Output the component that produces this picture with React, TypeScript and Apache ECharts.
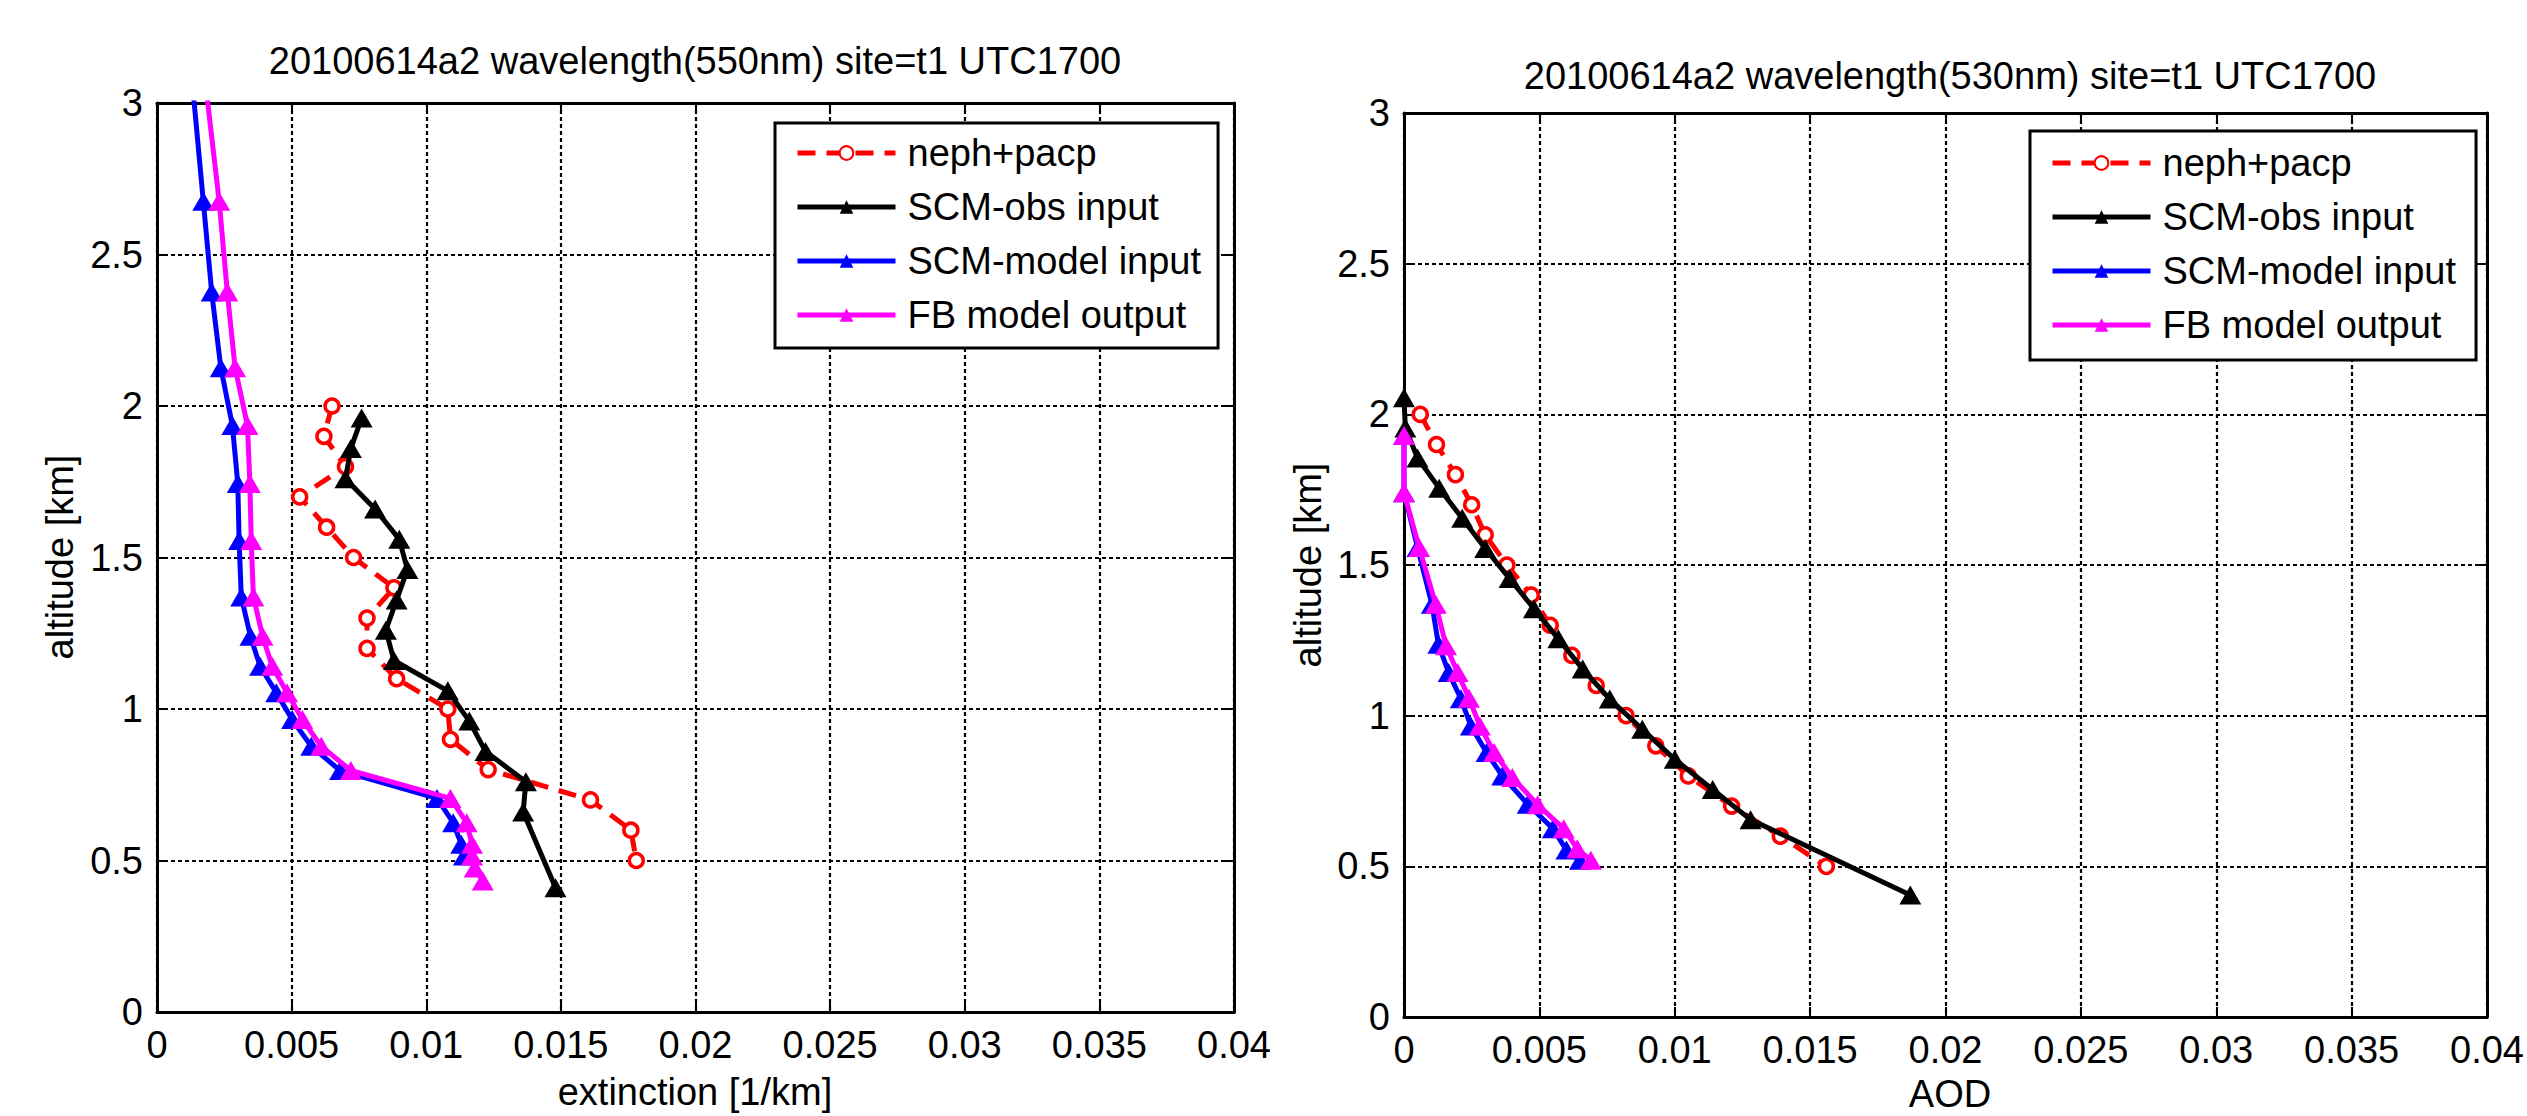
import React, { useEffect, useRef } from "react";
import * as echarts from "echarts";

const FONT = '"Liberation Sans", Arial, Helvetica, sans-serif';

// ---------- DATA ----------
const seriesNames = ["neph+pacp", "SCM-obs input", "SCM-model input", "FB model output"];
const seriesColors = ["#ff0000", "#000000", "#0000ff", "#ff00ff"];

const xTickLabels = ["0", "0.005", "0.01", "0.015", "0.02", "0.025", "0.03", "0.035", "0.04"];
const yTickLabels = ["0", "0.5", "1", "1.5", "2", "2.5", "3"];

// Left panel: extinction [1/km] vs altitude [km]
const extAltNeph = [2.0, 1.9, 1.8, 1.7, 1.6, 1.5, 1.4, 1.3, 1.2, 1.1, 1.0, 0.9, 0.8, 0.7, 0.6, 0.5];
const extNeph = [0.0065, 0.0062, 0.007, 0.0053, 0.0063, 0.0073, 0.0088, 0.0078, 0.0078, 0.0089, 0.0108, 0.0109, 0.0123, 0.0161, 0.0176, 0.0178];

const extAltObs = [1.96, 1.86, 1.76, 1.66, 1.56, 1.46, 1.36, 1.26, 1.16, 1.06, 0.96, 0.86, 0.76, 0.66, 0.41];
const extObs = [0.0076, 0.0072, 0.007, 0.0081, 0.009, 0.0093, 0.0089, 0.0085, 0.0088, 0.0108, 0.0116, 0.0122, 0.0137, 0.0136, 0.0148];

const extAltModel = [3.05, 2.676, 2.376, 2.126, 1.936, 1.744, 1.556, 1.37, 1.24, 1.141, 1.054, 0.965, 0.877, 0.797, 0.705, 0.625, 0.554, 0.515];
const extModel = [0.00133, 0.00172, 0.00203, 0.00237, 0.0028, 0.003, 0.00305, 0.00313, 0.00347, 0.00383, 0.00443, 0.00502, 0.00573, 0.0068, 0.0104, 0.011, 0.0113, 0.0114];

const extAltFb = [3.05, 2.676, 2.376, 2.126, 1.936, 1.744, 1.556, 1.37, 1.24, 1.141, 1.054, 0.965, 0.877, 0.797, 0.705, 0.625, 0.554, 0.515, 0.475, 0.432];
const extFb = [0.00182, 0.00231, 0.00261, 0.0029, 0.00336, 0.00345, 0.0035, 0.00358, 0.00392, 0.00428, 0.00483, 0.0054, 0.0061, 0.0072, 0.0109, 0.0115, 0.0117, 0.0117, 0.0118, 0.0121];

// Right panel: AOD vs altitude [km]
const aodAltNeph = [2.0, 1.9, 1.8, 1.7, 1.6, 1.5, 1.4, 1.3, 1.2, 1.1, 1.0, 0.9, 0.8, 0.7, 0.6, 0.5];
const aodNeph = [0.0006, 0.0012, 0.0019, 0.0025, 0.003, 0.0038, 0.0047, 0.0054, 0.0062, 0.0071, 0.0082, 0.0093, 0.0105, 0.0121, 0.0139, 0.0156];

const aodAltObs = [2.055, 1.955, 1.855, 1.755, 1.655, 1.555, 1.455, 1.355, 1.255, 1.155, 1.055, 0.955, 0.855, 0.755, 0.655, 0.405];
const aodObs = [0, 0.00005, 0.0005, 0.0013, 0.00215, 0.003, 0.0039, 0.0048, 0.0057, 0.0066, 0.0076, 0.0088, 0.01, 0.0114, 0.0128, 0.0187];

const aodAltModel = [1.93, 1.74, 1.558, 1.37, 1.237, 1.143, 1.056, 0.966, 0.878, 0.8, 0.706, 0.625, 0.554, 0.52];
const aodModel = [0, 0, 0.0005, 0.00103, 0.00127, 0.00165, 0.0021, 0.00247, 0.00305, 0.00363, 0.00457, 0.0055, 0.006, 0.0065];

const aodAltFb = [1.93, 1.74, 1.558, 1.37, 1.232, 1.143, 1.058, 0.966, 0.878, 0.795, 0.704, 0.625, 0.558, 0.52];
const aodFb = [0, 0, 0.00056, 0.00117, 0.00155, 0.00198, 0.0024, 0.0028, 0.00333, 0.004, 0.00494, 0.0059, 0.0064, 0.0069];

const titles = [
  "20100614a2 wavelength(550nm) site=t1 UTC1700",
  "20100614a2 wavelength(530nm) site=t1 UTC1700",
];
const xNames = ["extinction [1/km]", "AOD"];
const yName = "altitude [km]";

// ---------- CHART ----------
const GRIDS = [
  { left: 157, top: 103, width: 1077, height: 909 },
  { left: 1404, top: 113, width: 1092, height: 904 },
];

function makePoints(xs: number[], ys: number[]) {
  return xs.map((x, i) => {
    const item: any = { value: [x, ys[i]] };
    if (ys[i] > 3) item.symbol = "none";
    return item;
  });
}

function makeSeries(idx: number, panel: number, xs: number[], ys: number[]) {
  const color = seriesColors[idx];
  const isNeph = idx === 0;
  return {
    type: "line",
    name: seriesNames[idx],
    xAxisIndex: panel * 2,
    yAxisIndex: panel * 2,
    data: makePoints(xs, ys),
    clip: true,
    symbol: isNeph ? "circle" : "triangle",
    symbolSize: isNeph ? 14 : [22, 19],
    lineStyle: { color, width: 5, type: isNeph ? [18, 11] : "solid" },
    itemStyle: isNeph
      ? { color: "#ffffff", borderColor: color, borderWidth: 3.5 }
      : { color, borderColor: color, borderWidth: 0 },
    emphasis: { disabled: true },
    z: 2 + idx,
  };
}

function xAxes(panel: number) {
  const base = {
    gridIndex: panel,
    type: "value",
    min: 0,
    max: 0.04,
    interval: 0.005,
    axisLine: { show: true, onZero: false, lineStyle: { color: "#000", width: 3 } },
    axisTick: { show: true, inside: true, length: 10, lineStyle: { color: "#000", width: 2 } },
  };
  return [
    {
      ...base,
      position: "bottom",
      axisLabel: {
        show: true,
        color: "#000",
        fontSize: 38,
        fontFamily: FONT,
        margin: 14,
        formatter: (_v: number, i: number) => xTickLabels[i],
        showMaxLabel: true,
        showMinLabel: true,
      },
      splitLine: { show: true, lineStyle: { color: "#000", width: 2.2, type: [4, 3] } },
    },
    { ...base, position: "top", axisLabel: { show: false }, splitLine: { show: false } },
  ];
}

function yAxes(panel: number) {
  const base = {
    gridIndex: panel,
    type: "value",
    min: 0,
    max: 3,
    interval: 0.5,
    axisLine: { show: true, onZero: false, lineStyle: { color: "#000", width: 3 } },
    axisTick: { show: true, inside: true, length: 10, lineStyle: { color: "#000", width: 2 } },
  };
  return [
    {
      ...base,
      position: "left",
      axisLabel: {
        show: true,
        color: "#000",
        fontSize: 38,
        fontFamily: FONT,
        margin: 14,
        formatter: (_v: number, i: number) => yTickLabels[i],
      },
      splitLine: { show: true, lineStyle: { color: "#000", width: 2.2, type: [4, 3] } },
    },
    { ...base, position: "right", axisLabel: { show: false }, splitLine: { show: false } },
  ];
}

function legendFor(left: number, top: number, padding: number[]) {
  return {
    data: seriesNames,
    orient: "vertical",
    left,
    top,
    padding,
    itemWidth: 98,
    itemHeight: 17,
    itemGap: 16,
    backgroundColor: "#ffffff",
    borderColor: "#000",
    borderWidth: 3,
    selectedMode: false,
    lineStyle: { width: 5 },
    textStyle: { color: "#000", fontSize: 38, fontFamily: FONT, padding: [0, 0, 0, 7] },
    z: 10,
  };
}

function textEl(text: string, x: number, y: number, rotation = 0) {
  return {
    type: "text",
    x,
    y,
    rotation,
    style: {
      text,
      fill: "#000",
      fontSize: 38,
      fontFamily: FONT,
      align: "center",
      verticalAlign: "middle",
    },
    z: 20,
  };
}

export default function App() {
  const ref = useRef<HTMLDivElement>(null);

  useEffect(() => {
    if (!ref.current) return;
    const chart = echarts.init(ref.current, undefined, { renderer: "svg" });
    const option: any = {
      animation: false,
      backgroundColor: "#ffffff",
      grid: GRIDS.map((g) => ({ ...g, containLabel: false, show: false })),
      xAxis: [...xAxes(0), ...xAxes(1)],
      yAxis: [...yAxes(0), ...yAxes(1)],
      legend: [
        legendFor(775, 123, [11, 17, 14, 20]),
        legendFor(2030, 131, [13, 20, 16, 20]),
      ],
      graphic: [
        textEl(titles[0], 695, 61),
        textEl(titles[1], 1950, 76),
        textEl(xNames[0], 695, 1092),
        textEl(xNames[1], 1950, 1094),
        textEl(yName, 60, 557, Math.PI / 2),
        textEl(yName, 1308, 565, Math.PI / 2),
      ],
      series: [
        makeSeries(0, 0, extNeph, extAltNeph),
        makeSeries(1, 0, extObs, extAltObs),
        makeSeries(2, 0, extModel, extAltModel),
        makeSeries(3, 0, extFb, extAltFb),
        makeSeries(0, 1, aodNeph, aodAltNeph),
        makeSeries(1, 1, aodObs, aodAltObs),
        makeSeries(2, 1, aodModel, aodAltModel),
        makeSeries(3, 1, aodFb, aodAltFb),
      ],
    };
    chart.setOption(option);
    return () => chart.dispose();
  }, []);

  return (
    <div
      ref={ref}
      style={{ position: "fixed", left: 0, top: 0, width: 2527, height: 1116, background: "#fff" }}
    />
  );
}
